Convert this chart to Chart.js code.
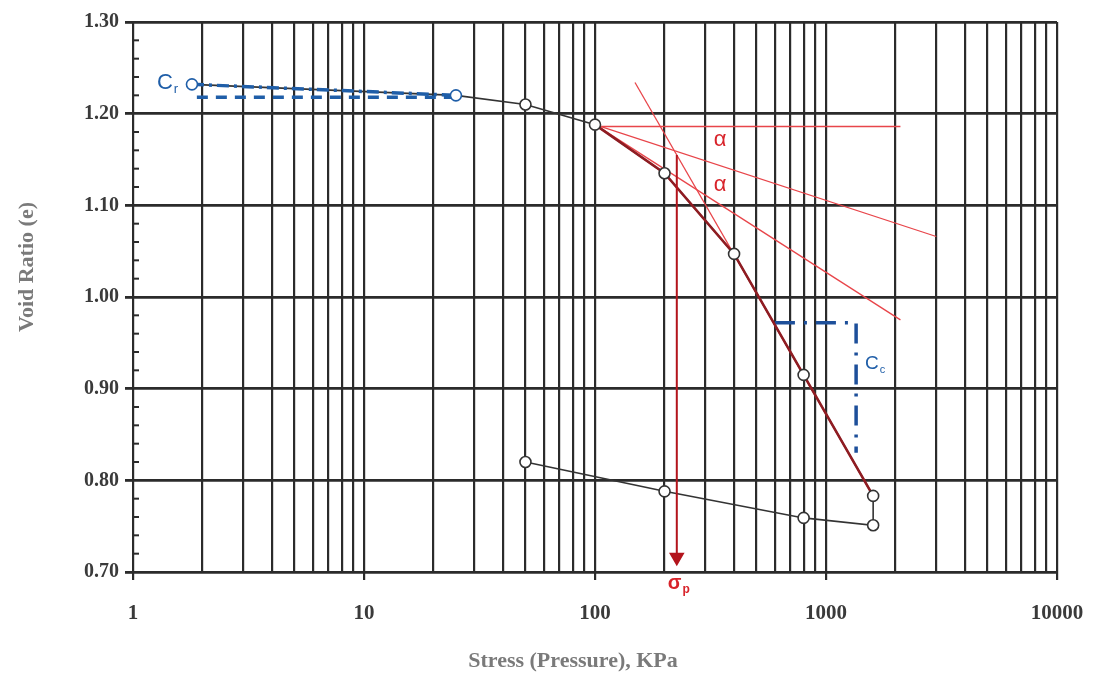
<!DOCTYPE html>
<html lang="en">
<head>
  <meta charset="UTF-8">
  <title>Void Ratio vs Stress</title>
  <script src="https://cdn.jsdelivr.net/npm/chart.js@4.4.1/dist/chart.umd.min.js"></script>
  <style>
    body { margin: 0; background: #fff; }
    #wrap { width: 1093px; height: 679px; }
  </style>
</head>
<body>
  <div id="wrap"><canvas id="oedChart" width="1093" height="679"></canvas></div>

  <script>
    // loading / unloading curve (stress kPa, void ratio)
    const loadStress = [1.8, 25, 50, 100, 200, 400, 800, 1600];
    const loadVoid = [1.232, 1.220, 1.210, 1.188, 1.135, 1.047, 0.915, 0.783];
    const unloadStress = [1600, 1600, 800, 200, 50];
    const unloadVoid = [0.783, 0.751, 0.759, 0.788, 0.820];

    // Casagrande construction lines
    const horizX = [100, 2100], horizY = [1.186, 1.186];
    const tangentX = [100, 3000], tangentY = [1.188, 1.066];
    const bisectX = [100, 2100], bisectY = [1.188, 0.975];
    const virginX = [149, 1600], virginY = [1.234, 0.783];
    const sigmaX = [226, 226], sigmaY = [1.155, 0.716];

    // Cr / Cc markers
    const crX = [1.8, 25], crY = [1.232, 1.220];
    const crBaseX = [1.89, 25], crBaseY = [1.218, 1.218];
    const ccX = [601, 1350, 1350], ccY = [0.972, 0.972, 0.83];

    const yTicks = [0.70, 0.80, 0.90, 1.00, 1.10, 1.20, 1.30];
    const xLabels = [1, 10, 100, 1000, 10000];

    const gridCol = '#2b2b2b';
    const blue = '#1f5ea8';
    const red = '#e8454a';

    function pts(xs, ys) {
      return xs.map((x, i) => ({ x: x, y: ys[i] }));
    }
    function isDecade(v) {
      return xLabels.indexOf(v) !== -1;
    }

    function lineSet(data, color, width, extra) {
      return Object.assign({
        data: data,
        showLine: true,
        borderColor: color,
        borderWidth: width,
        pointRadius: 0,
        fill: false
      }, extra || {});
    }

    function drawSub(ctx, main, sub, x, y, size, color, bold) {
      ctx.fillStyle = color;
      ctx.textBaseline = 'middle';
      ctx.textAlign = 'left';
      ctx.font = (bold ? 'bold ' : '') + size + 'px "Liberation Sans", Arial, sans-serif';
      ctx.fillText(main, x, y);
      const w = ctx.measureText(main).width;
      ctx.font = (bold ? 'bold ' : '') + Math.round(size * 0.6) + 'px "Liberation Sans", Arial, sans-serif';
      ctx.fillText(sub, x + w + 1, y + size * 0.3);
    }

    const extrasPlugin = {
      id: 'extras',
      afterDraw(chart) {
        const ctx = chart.ctx;
        const xs = chart.scales.x, ys = chart.scales.y;
        ctx.save();

        // minor y ticks inside the axis
        ctx.strokeStyle = gridCol;
        ctx.lineWidth = 2;
        for (let v = 0.72; v < 1.29; v += 0.02) {
          if (Math.abs(v * 10 - Math.round(v * 10)) < 0.01) continue;
          const py = ys.getPixelForValue(v);
          ctx.beginPath();
          ctx.moveTo(xs.left, py);
          ctx.lineTo(xs.left + 6, py);
          ctx.stroke();
        }

        // annotations
        ctx.font = '22px "Liberation Sans", Arial, sans-serif';
        ctx.fillStyle = '#d8232a';
        ctx.textAlign = 'center';
        ctx.textBaseline = 'middle';
        ctx.fillText('α', xs.getPixelForValue(348), ys.getPixelForValue(1.171));
        ctx.fillText('α', xs.getPixelForValue(348), ys.getPixelForValue(1.122));

        drawSub(ctx, 'σ', 'p', xs.getPixelForValue(226) - 9, ys.getPixelForValue(0.687), 20, '#d8232a', true);
        drawSub(ctx, 'C', 'r', xs.getPixelForValue(1.27), ys.getPixelForValue(1.234), 22, blue, false);
        drawSub(ctx, 'C', 'c', xs.getPixelForValue(1475), ys.getPixelForValue(0.927), 19, blue, false);

        // axis titles
        ctx.fillStyle = '#7a7a7a';
        ctx.font = 'bold 22px "Liberation Serif", "Times New Roman", serif';
        ctx.textAlign = 'center';
        ctx.fillText('Stress (Pressure), KPa', 573, 661);
        ctx.translate(27, 267);
        ctx.rotate(-Math.PI / 2);
        ctx.fillText('Void Ratio (e)', 0, 0);
        ctx.restore();
      }
    };

    const virginIdx = [3, 4, 5, 6, 7];

    new Chart(document.getElementById('oedChart'), {
      type: 'scatter',
      data: {
        datasets: [
          // circles on top
          {
            data: pts(loadStress, loadVoid).concat(pts(unloadStress.slice(1), unloadVoid.slice(1))),
            showLine: false,
            pointRadius: 5.5,
            pointBackgroundColor: '#ffffff',
            pointBorderColor: ctx => (ctx.dataIndex < 2 ? blue : '#333'),
            pointBorderWidth: 1.6,
            order: 0
          },
          lineSet(pts(sigmaX, sigmaY), '#b3141c', 2, {
            pointRadius: [0, 7],
            pointStyle: 'triangle',
            pointRotation: 180,
            pointBackgroundColor: '#b3141c',
            pointBorderColor: '#b3141c',
            order: 1
          }),
          lineSet(virginIdx.map(i => ({ x: loadStress[i], y: loadVoid[i] })), '#8f1c22', 2.6, { order: 2 }),
          lineSet(pts(virginX, virginY), red, 1.3, { order: 3 }),
          lineSet(pts(horizX, horizY), red, 1.4, { order: 3 }),
          lineSet(pts(tangentX, tangentY), red, 1.3, { order: 3 }),
          lineSet(pts(bisectX, bisectY), red, 1.3, { order: 3 }),
          lineSet(pts(crX, crY), blue, 3.5, { borderDash: [12, 5, 3, 5], order: 4 }),
          lineSet(pts(crBaseX, crBaseY), blue, 3.5, { borderDash: [11, 8], order: 4 }),
          lineSet(pts(ccX, ccY), '#1d4f9a', 3.5, { borderDash: [20, 9, 3, 9], order: 4 }),
          lineSet(pts(loadStress, loadVoid), '#333', 1.6, { order: 5 }),
          lineSet(pts(unloadStress, unloadVoid), '#333', 1.6, { order: 5 })
        ]
      },
      options: {
        responsive: false,
        animation: false,
        layout: { padding: { top: 22, right: 36, left: 0, bottom: 0 } },
        plugins: {
          legend: { display: false },
          tooltip: { enabled: false }
        },
        scales: {
          x: {
            type: 'logarithmic',
            min: 1,
            max: 10000,
            afterBuildTicks(scale) {
              const t = [];
              for (let d = 1; d < 10000; d *= 10) {
                for (let m = 1; m < 10; m++) t.push({ value: m * d });
              }
              t.push({ value: 10000 });
              scale.ticks = t;
            },
            afterFit(scale) {
              scale.height = 107;
              scale.paddingLeft = 0;
              scale.paddingRight = 0;
            },
            border: { display: true, color: gridCol, width: 2 },
            grid: {
              color: gridCol,
              lineWidth: 2.2,
              tickLength: 8,
              tickColor: ctx => (ctx.tick && isDecade(ctx.tick.value) ? gridCol : 'rgba(0,0,0,0)')
            },
            ticks: {
              autoSkip: false,
              maxRotation: 0,
              padding: 21,
              color: '#3a3a3a',
              font: { family: '"Liberation Serif", "Times New Roman", serif', size: 21, weight: 'bold' },
              callback: v => (isDecade(v) ? String(v) : '')
            }
          },
          y: {
            min: 0.70,
            max: 1.30,
            afterBuildTicks(scale) {
              scale.ticks = yTicks.map(v => ({ value: v }));
            },
            afterFit(scale) {
              scale.width = 133;
              scale.paddingTop = 0;
              scale.paddingBottom = 0;
            },
            border: { display: true, color: gridCol, width: 2 },
            grid: {
              color: gridCol,
              lineWidth: 2.8,
              tickLength: 8
            },
            ticks: {
              padding: 6,
              color: '#3a3a3a',
              font: { family: '"Liberation Serif", "Times New Roman", serif', size: 20, weight: 'bold' },
              callback: v => Number(v).toFixed(2)
            }
          }
        }
      },
      plugins: [extrasPlugin]
    });
  </script>
</body>
</html>
